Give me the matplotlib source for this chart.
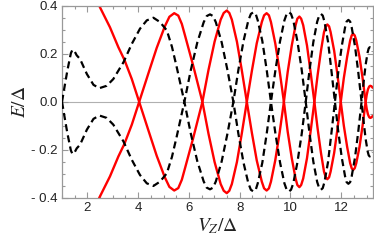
import matplotlib
matplotlib.use("Agg")
import matplotlib.pyplot as plt
from matplotlib.ticker import MultipleLocator, FixedLocator

# Black dashed branch (signed energy), mirrored as -E
black_V = [1.00, 1.06, 1.12, 1.21, 1.29, 1.35, 1.41, 1.48, 1.58, 1.71, 1.98, 2.24, 2.47,
           2.76, 3.02, 3.42, 3.75, 4.07, 4.34, 4.60, 4.86, 5.13, 5.33, 5.52, 5.82,
           6.07, 6.33, 6.58, 6.70, 6.83, 6.95, 7.06, 7.29, 7.52, 7.75,
           7.95, 8.15, 8.34, 8.44, 8.54, 8.63, 8.71, 8.89, 9.06, 9.23,
           9.41, 9.59, 9.76, 9.85, 9.94, 10.02, 10.11, 10.27, 10.44, 10.60,
           10.75, 10.90, 11.05, 11.13, 11.20, 11.27, 11.34, 11.48, 11.61, 11.75,
           11.88, 12.02, 12.15, 12.21, 12.28, 12.35, 12.41, 12.54, 12.67, 12.80,
           12.88, 12.96, 13.04, 13.08, 13.12, 13.17, 13.23]
black_E = [0.000, 0.038, 0.075, 0.130, 0.172, 0.203, 0.217, 0.214, 0.194, 0.179, 0.116, 0.071, 0.057,
           0.067, 0.095, 0.165, 0.242, 0.305, 0.340, 0.351, 0.333, 0.298, 0.230, 0.144, 0.000,
           -0.131, -0.248, -0.332, -0.358, -0.365, -0.358, -0.332, -0.248, -0.131, 0.000,
           0.135, 0.254, 0.340, 0.367, 0.374, 0.367, 0.340, 0.254, 0.135, 0.000,
           -0.135, -0.254, -0.340, -0.367, -0.374, -0.367, -0.340, -0.254, -0.135, 0.000,
           0.132, 0.250, 0.334, 0.360, 0.367, 0.360, 0.334, 0.250, 0.132, 0.000,
           -0.123, -0.233, -0.311, -0.335, -0.342, -0.335, -0.311, -0.233, -0.123, 0.000,
           0.082, 0.155, 0.207, 0.223, 0.228, 0.224, 0.210]

# Red solid branch (signed energy), mirrored as -E
red_V = [2.30, 2.47, 2.89, 3.22, 3.46, 3.75, 4.04,
         4.40, 4.73, 5.05, 5.23, 5.42, 5.58, 5.72, 5.85, 6.17, 6.53,
         6.77, 7.01, 7.25, 7.37, 7.49, 7.59, 7.69, 7.89, 8.08, 8.28,
         8.48, 8.67, 8.87, 8.96, 9.06, 9.15, 9.23, 9.40, 9.57, 9.74,
         9.89, 10.05, 10.20, 10.27, 10.35, 10.42, 10.50, 10.65, 10.79, 10.94,
         11.07, 11.20, 11.32, 11.39, 11.45, 11.52, 11.58, 11.72, 11.85, 11.98,
         12.10, 12.23, 12.35, 12.41, 12.47, 12.53, 12.59, 12.72, 12.84, 12.96,
         13.00, 13.05, 13.10, 13.14, 13.19, 13.23]
red_E = [0.450, 0.400, 0.311, 0.228, 0.175, 0.095, 0.000,
         -0.118, -0.225, -0.315, -0.355, -0.370, -0.360, -0.325, -0.275, -0.150, 0.000,
         0.133, 0.251, 0.343, 0.371, 0.381, 0.371, 0.343, 0.251, 0.133, 0.000,
         -0.130, -0.244, -0.333, -0.361, -0.370, -0.361, -0.333, -0.244, -0.130, 0.000,
         0.125, 0.235, 0.320, 0.347, 0.356, 0.347, 0.320, 0.235, 0.125, 0.000,
         -0.113, -0.213, -0.291, -0.315, -0.323, -0.315, -0.291, -0.213, -0.113, 0.000,
         0.099, 0.187, 0.256, 0.277, 0.284, 0.277, 0.256, 0.187, 0.099, 0.000,
         -0.028, -0.052, -0.064, -0.067, -0.065, -0.060]

x_ticks = [2, 4, 6, 8, 10, 12]
y_ticks = [-0.4, -0.2, 0.0, 0.2, 0.4]
y_ticklabels = ["- 0.4", "- 0.2", "0.0", "0.2", "0.4"]

plt.rcParams["mathtext.fontset"] = "stix"
plt.rcParams["font.family"] = ["Liberation Sans", "DejaVu Sans"]

fig = plt.figure(figsize=(3.74, 2.43), dpi=100)
ax = fig.add_axes([62 / 374, 1 - 197.7 / 243, (372.5 - 62) / 374, (197.7 - 6) / 243])

ax.axhline(0, color="#b0b0b0", lw=0.8, zorder=1)

neg = lambda a: [-v for v in a]
for E in (red_E, neg(red_E)):
    ax.plot(red_V, E, color="#ff0000", lw=1.7, zorder=2, solid_joinstyle="round")
for E in (black_E, neg(black_E)):
    ax.plot(black_V, E, color="black", lw=1.6, dashes=(3.2, 1.9), zorder=3)

ax.set_xlim(1.0, 13.23)
ax.set_ylim(-0.4, 0.4)

ax.xaxis.set_major_locator(FixedLocator(x_ticks))
ax.xaxis.set_minor_locator(MultipleLocator(0.5))
ax.yaxis.set_major_locator(FixedLocator(y_ticks))
ax.set_yticklabels(y_ticklabels)
ax.yaxis.set_minor_locator(MultipleLocator(0.05))

frame_col = "#999999"
for s in ax.spines.values():
    s.set_color(frame_col)
    s.set_linewidth(0.9)
ax.tick_params(which="both", direction="in", top=True, right=True, color=frame_col,
               labelsize=9.5, labelcolor="#222222", width=0.8)
ax.tick_params(which="major", length=4.5, pad=3)
ax.tick_params(which="minor", length=2.5)

ax.set_xlabel(r"$V_Z/\Delta$", fontsize=14, labelpad=2, color="#222222")
ax.set_ylabel(r"$E/\Delta$", fontsize=14, labelpad=2, color="#222222")

fig.savefig("out.png", dpi=100)
